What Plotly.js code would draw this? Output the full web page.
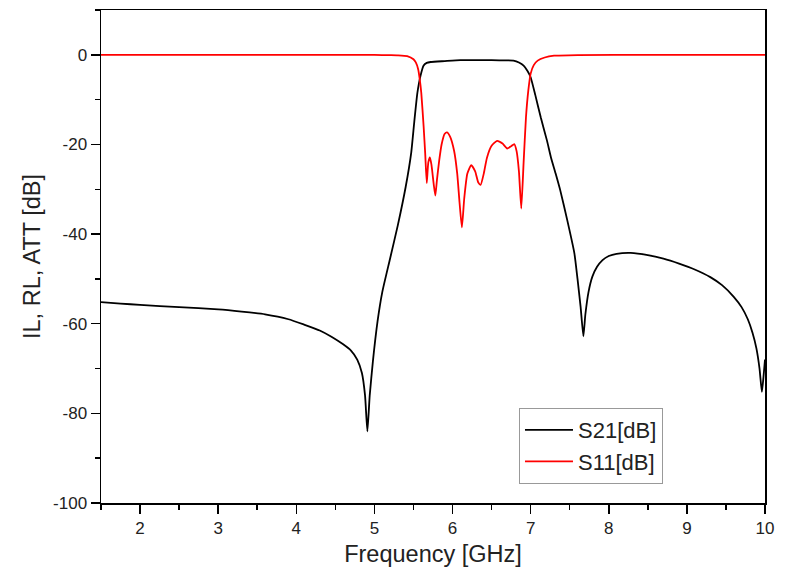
<!DOCTYPE html>
<html>
<head>
<meta charset="utf-8">
<script src="https://cdn.plot.ly/plotly-3.0.1.min.js"></script>
<style>
html, body { margin: 0; padding: 0; background: #ffffff; }
#chart { width: 789px; height: 572px; }
</style>
</head>
<body>
<div id="chart"></div>
<script>
// S21 [dB] (insertion loss / attenuation)
const s21Freq = [1.5, 1.75, 2.0, 2.5, 3.0, 3.3, 3.6, 3.9, 4.1, 4.3, 4.45, 4.6, 4.7, 4.78, 4.84, 4.88, 4.91, 4.94, 4.98, 5.04, 5.1, 5.2, 5.3, 5.4, 5.47, 5.51, 5.55, 5.59, 5.63, 5.67, 5.72, 5.9, 6.1, 6.3, 6.5, 6.7, 6.78, 6.85, 6.91, 6.96, 7.0, 7.06, 7.13, 7.21, 7.26, 7.32, 7.38, 7.47, 7.56, 7.6, 7.64, 7.675, 7.7, 7.74, 7.79, 7.85, 7.92, 8.0, 8.1, 8.28, 8.5, 8.7, 8.9, 9.1, 9.3, 9.45, 9.6, 9.7, 9.78, 9.84, 9.89, 9.93, 9.96, 9.98, 10.0];
const s21Vals = [-55.2, -55.5, -55.8, -56.3, -56.8, -57.3, -57.9, -59.0, -60.2, -61.5, -62.9, -64.6, -66.0, -68.0, -71.0, -76.0, -84.0, -76.0, -68.5, -59.5, -53.0, -45.5, -38.0, -29.5, -22.0, -15.0, -8.5, -4.7, -2.4, -1.8, -1.6, -1.4, -1.2, -1.2, -1.2, -1.25, -1.3, -1.7, -2.4, -3.6, -5.0, -9.0, -14.0, -19.2, -22.9, -26.5, -30.3, -37.0, -44.3, -50.0, -56.3, -62.8, -58.0, -53.0, -49.5, -47.3, -45.8, -44.9, -44.4, -44.2, -44.7, -45.5, -46.6, -47.9, -49.6, -51.4, -54.0, -56.3, -59.0, -62.0, -65.5, -70.0, -75.2, -72.0, -68.0];

// S11 [dB] (return loss)
const s11Freq = [1.5, 3.0, 4.5, 5.0, 5.2, 5.3, 5.42, 5.5, 5.53, 5.56, 5.58, 5.6, 5.63, 5.65, 5.67, 5.69, 5.71, 5.73, 5.76, 5.78, 5.8, 5.83, 5.86, 5.9, 5.93, 5.97, 6.02, 6.06, 6.09, 6.12, 6.15, 6.19, 6.24, 6.29, 6.33, 6.36, 6.4, 6.44, 6.5, 6.57, 6.64, 6.7, 6.75, 6.79, 6.82, 6.85, 6.88, 6.91, 6.94, 6.97, 7.0, 7.04, 7.09, 7.18, 7.3, 7.6, 8.5, 10.0];
const s11Vals = [0, 0, -0.01, -0.03, -0.08, -0.12, -0.3, -1.0, -1.7, -3.2, -5.4, -8.5, -16.0, -22.0, -28.6, -24.0, -22.9, -24.5, -29.0, -31.4, -28.0, -23.5, -20.0, -17.6, -17.3, -18.3, -21.4, -26.5, -33.0, -38.5, -32.0, -26.5, -24.6, -26.0, -28.5, -29.0, -26.5, -23.0, -20.3, -19.2, -19.8, -20.9, -20.4, -19.9, -21.5, -26.0, -34.3, -24.0, -14.0, -8.0, -4.2, -2.3, -1.3, -0.6, -0.2, -0.05, 0, 0];

// Axis ticks
const xRange = [1.5, 10];
const yRange = [-100, 10];
const yTickVals = [0, -20, -40, -60, -80, -100];
const yTickText = ['0', '-20', '-40', '-60', '-80', '-100'];

const FONT = 'Arial, "Liberation Sans", sans-serif';

const traces = [
  {
    x: s21Freq, y: s21Vals, name: 'S21[dB]', type: 'scatter', mode: 'lines',
    line: { color: '#000000', width: 1.8, shape: 'spline', smoothing: 0.5 }
  },
  {
    x: s11Freq, y: s11Vals, name: 'S11[dB]', type: 'scatter', mode: 'lines',
    line: { color: '#ff0000', width: 1.8, shape: 'spline', smoothing: 0.5 }
  }
];

const axisCommon = {
  showgrid: false, zeroline: false,
  showline: true, linecolor: '#000000', linewidth: 1.5, mirror: true,
  ticks: 'outside', ticklen: 9, tickwidth: 1.5, tickcolor: '#000000',
  tickfont: { family: FONT, size: 17, color: '#222222' }
};

const layout = {
  width: 789, height: 572,
  margin: { l: 101, r: 24, t: 10, b: 69 },
  paper_bgcolor: '#ffffff', plot_bgcolor: '#ffffff',
  showlegend: true,
  legend: {
    x: 0.6295, y: 0.1927, xanchor: 'left', yanchor: 'top',
    bgcolor: '#ffffff', bordercolor: '#999999', borderwidth: 1,
    font: { family: FONT, size: 22, color: '#222222' },
    itemwidth: 48,
    tracegroupgap: 0
  },
  xaxis: Object.assign({}, axisCommon, {
    range: xRange, tick0: 2, dtick: 1,
    minor: { dtick: 0.5, tick0: 1.5, ticks: 'outside', ticklen: 5, tickwidth: 1.5, tickcolor: '#000000' },
    title: { text: 'Frequency [GHz]', font: { family: FONT, size: 23.5, color: '#222222' }, standoff: 8 }
  }),
  yaxis: Object.assign({}, axisCommon, {
    range: yRange, tickmode: 'array', tickvals: yTickVals, ticktext: yTickText,
    minor: { dtick: 10, tick0: 0, ticks: 'outside', ticklen: 5, tickwidth: 1.5, tickcolor: '#000000' },
    title: { text: 'IL, RL, ATT [dB]', font: { family: FONT, size: 23.5, color: '#222222' }, standoff: 6 }
  })
};

Plotly.newPlot('chart', traces, layout, { displayModeBar: false, staticPlot: true });
</script>
</body>
</html>
